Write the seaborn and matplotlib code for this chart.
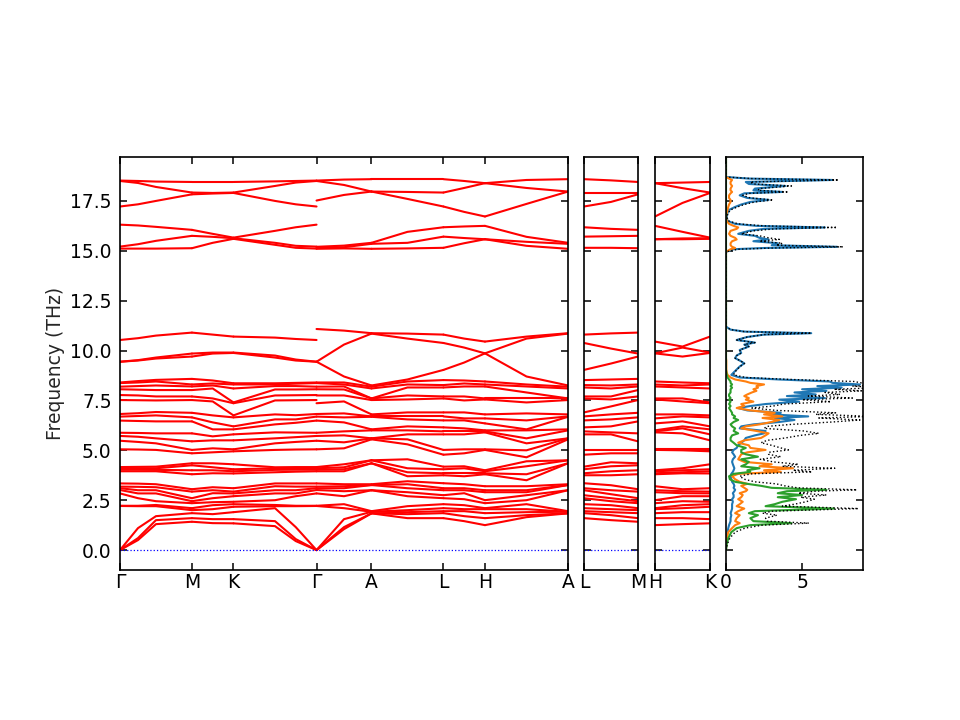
import numpy as np
import pandas as pd
import matplotlib
matplotlib.use("Agg")
import matplotlib.pyplot as plt
import seaborn as sns
from matplotlib.ticker import MultipleLocator

# phonon frequencies (THz) read at the sampled q-points of the path
# G = Gamma (in-plane approach), Gz = Gamma approached along c
q = {
    "G": [0, 0, 0, 2.21, 2.22, 2.84, 3.01, 3.1, 3.18, 3.34, 3.95, 4.03, 4.1, 4.16, 5.05, 5.48, 5.72, 5.88,
          6.49, 6.69, 6.82, 7.52, 7.77, 8.06, 8.19, 8.37, 8.4, 9.44, 9.44, 10.53,
          15.11, 15.21, 16.31, 17.22, 18.50, 18.52],
    "GM1": [0.5, 0.6, 1.1, 2.2, 2.22, 2.6, 2.84, 3.0, 3.17, 3.33, 3.95, 4.03, 4.1, 4.17, 5.04, 5.42, 5.68, 5.87,
            6.47, 6.72, 6.86, 7.51, 7.75, 8.04, 8.22, 8.4, 8.47, 9.5, 9.52, 10.62,
            15.11, 15.33, 16.27, 17.33, 18.4, 18.5],
    "GM": [1.3, 1.5, 1.7, 2.2, 2.26, 2.45, 2.84, 3.0, 3.15, 3.3, 3.95, 4.02, 4.1, 4.18, 5.02, 5.35, 5.6, 5.85,
           6.45, 6.75, 6.92, 7.5, 7.7, 8.02, 8.25, 8.45, 8.53, 9.6, 9.65, 10.75,
           15.11, 15.5, 16.2, 17.5, 18.2, 18.47],
    "M": [1.42, 1.6, 1.85, 2.0, 2.1, 2.35, 2.45, 2.6, 2.93, 3.05, 3.8, 4.0, 4.25, 4.35, 4.85, 5.02, 5.45, 5.85,
          6.45, 6.65, 6.88, 7.52, 7.7, 8.02, 8.2, 8.3, 8.58, 9.7, 9.85, 10.9,
          15.13, 15.75, 16.05, 17.83, 17.92, 18.45],
    "MK": [1.35, 1.55, 1.8, 2.05, 2.25, 2.4, 2.6, 2.85, 3.0, 3.15, 3.85, 4.0, 4.15, 4.35, 4.9, 5.1, 5.5, 5.7,
           6.05, 6.4, 6.75, 7.45, 7.6, 8.1, 8.25, 8.35, 8.5, 9.85, 9.9, 10.8,
           15.4, 15.7, 15.85, 17.87, 17.9, 18.45],
    "K": [1.34, 1.55, 1.9, 2.17, 2.3, 2.42, 2.7, 2.84, 2.93, 3.1, 3.84, 3.95, 4.05, 4.3, 4.95, 5.05, 5.5, 5.8,
          6.05, 6.2, 6.65, 6.75, 7.36, 7.4, 8.1, 8.3, 8.36, 9.88, 9.9, 10.7,
          15.6, 15.63, 15.66, 17.9, 17.92, 18.45],
    "KG": [1.2, 1.45, 2.1, 2.2, 2.26, 2.5, 2.84, 3.0, 3.2, 3.34, 3.9, 4.02, 4.1, 4.15, 5.02, 5.35, 5.6, 5.9,
           6.3, 6.55, 6.8, 7.5, 7.75, 8.05, 8.22, 8.3, 8.36, 9.65, 9.75, 10.65,
           15.3, 15.4, 16.0, 17.5, 18.25, 18.48],
    "KG3": [0.45, 0.55, 1.15, 2.2, 2.22, 2.7, 2.84, 3.0, 3.18, 3.34, 3.93, 4.03, 4.1, 4.16, 5.04, 5.42, 5.66, 5.89,
            6.38, 6.55, 6.76, 7.51, 7.76, 8.05, 8.22, 8.34, 8.38, 9.5, 9.55, 10.58,
            15.15, 15.25, 16.18, 17.33, 18.42, 18.5],
    "Gz": [0, 0, 0, 2.21, 2.22, 2.84, 3.01, 3.1, 3.18, 3.34, 3.95, 4.03, 4.1, 4.16, 5.05, 5.48, 5.72, 5.88,
           6.49, 6.69, 6.82, 7.36, 7.75, 8.06, 8.19, 8.37, 8.4, 9.44, 9.44, 11.08,
           15.1, 15.15, 15.2, 17.52, 18.50, 18.52],
    "GA": [1.05, 1.15, 1.55, 2.1, 2.3, 2.7, 2.95, 3.1, 3.2, 3.3, 3.95, 4.05, 4.15, 4.3, 5.1, 5.4, 5.75, 5.95,
           6.4, 6.65, 6.85, 7.45, 7.75, 8.05, 8.2, 8.3, 8.4, 8.7, 10.3, 11.0,
           15.12, 15.18, 15.26, 17.8, 18.3, 18.57],
    "A": [1.84, 1.84, 1.92, 1.92, 1.95, 3.0, 3.0, 3.26, 3.26, 3.3, 4.35, 4.35, 4.5, 4.5, 5.55, 5.6, 5.6, 6.0,
          6.05, 6.68, 6.7, 6.8, 7.52, 7.6, 7.6, 8.1, 8.19, 8.25, 10.85, 10.87,
          15.1, 15.35, 15.4, 17.97, 17.97, 18.59],
    "AL": [1.6, 1.8, 1.9, 2.0, 2.2, 2.7, 2.9, 3.1, 3.3, 3.45, 3.7, 3.9, 4.1, 4.55, 5.3, 5.55, 5.8, 6.0,
           6.2, 6.55, 6.7, 6.9, 7.55, 7.75, 8.15, 8.3, 8.45, 8.55, 10.6, 10.85,
           15.12, 15.4, 15.95, 17.6, 17.95, 18.59],
    "L": [1.6, 1.85, 1.95, 2.1, 2.3, 2.6, 2.75, 3.0, 3.1, 3.35, 3.75, 3.85, 4.05, 4.18, 4.78, 5.02, 5.8, 5.95,
          6.15, 6.5, 6.7, 6.9, 7.6, 7.7, 8.15, 8.27, 8.52, 9.03, 10.38, 10.8,
          15.15, 15.71, 16.18, 17.22, 17.92, 18.59],
    "LH": [1.45, 1.7, 1.95, 2.05, 2.25, 2.55, 2.85, 3.0, 3.1, 3.3, 3.7, 3.85, 4.1, 4.2, 4.85, 5.05, 5.8, 5.95,
           6.1, 6.5, 6.6, 6.9, 7.5, 7.7, 8.2, 8.35, 8.5, 9.4, 10.15, 10.6,
           15.38, 15.64, 16.22, 16.95, 18.15, 18.5],
    "H": [1.25, 1.6, 1.85, 2.05, 2.1, 2.35, 2.5, 2.9, 3.0, 3.2, 3.8, 3.85, 3.95, 4.0, 5.02, 5.05, 5.9, 5.95,
          6.0, 6.35, 6.6, 6.8, 7.55, 7.6, 8.2, 8.3, 8.45, 9.86, 9.86, 10.45,
          15.58, 15.58, 16.25, 16.72, 18.39, 18.39],
    "HA": [1.65, 1.75, 1.9, 2.05, 2.3, 2.5, 2.75, 2.9, 3.0, 3.2, 3.5, 3.8, 4.2, 4.45, 4.65, 5.0, 5.35, 5.6,
           6.0, 6.05, 6.5, 6.85, 7.4, 7.6, 7.9, 8.2, 8.3, 8.7, 10.6, 10.7,
           15.25, 15.45, 15.7, 17.35, 18.15, 18.55],
    "LM": [1.5, 1.75, 1.9, 2.05, 2.25, 2.45, 2.6, 2.8, 3.0, 3.25, 3.75, 3.95, 4.2, 4.4, 4.85, 5.02, 5.8, 5.9,
           6.2, 6.55, 6.8, 7.2, 7.55, 7.7, 8.1, 8.25, 8.55, 9.35, 10.1, 10.86,
           15.15, 15.73, 16.1, 17.45, 17.92, 18.53],
    "HK": [1.3, 1.6, 1.9, 2.1, 2.25, 2.45, 2.7, 2.85, 2.95, 3.05, 3.85, 3.9, 4.0, 4.1, 5.0, 5.05, 5.85, 6.1,
           6.2, 6.45, 6.7, 6.8, 7.45, 7.6, 8.15, 8.25, 8.4, 9.7, 10.15, 10.2,
           15.58, 15.62, 15.95, 17.4, 18.14, 18.42],
}

# path segments: sampled points as (fraction of segment, q-point key), and segment length (Gamma-M = 1)
main_path = [
    [(0, "G"), (0.25, "GM1"), (0.5, "GM"), (1, "M")],
    [(0, "M"), (0.5, "MK"), (1, "K")],
    [(0, "K"), (0.5, "KG"), (0.75, "KG3"), (1, "G")],
    [(0, "Gz"), (0.5, "GA"), (1, "A")],
    [(0, "A"), (0.5, "AL"), (1, "L")],
    [(0, "L"), (0.5, "LH"), (1, "H")],
    [(0, "H"), (0.5, "HA"), (1, "A")],
]
main_len = [1.0, 0.5774, 1.1547, 0.764, 1.0, 0.5774, 1.1547]
main_labels = ["Γ", "M", "K", "Γ", "A", "L", "H", "A"]
lm_path = [[(0, "L"), (0.5, "LM"), (1, "M")]]
hk_path = [[(0, "H"), (0.5, "HK"), (1, "K")]]
side_len = [0.764]

# projected DOS (three species) along frequency
dos_freq = [0.0, 0.3, 0.6, 0.9, 1.1, 1.25, 1.35, 1.45, 1.6, 1.75,
            1.85, 1.95, 2.08, 2.2, 2.3, 2.42, 2.55, 2.65, 2.76, 2.85,
            2.95, 3.02, 3.12, 3.22, 3.32, 3.42, 3.55, 3.7, 3.82, 3.92,
            4.0, 4.1, 4.2, 4.3, 4.42, 4.55, 4.68, 4.8, 4.9, 5.02,
            5.12, 5.25, 5.38, 5.5, 5.62, 5.75, 5.85, 5.97, 6.1, 6.2,
            6.3, 6.42, 6.52, 6.62, 6.7, 6.8, 6.88, 7.0, 7.12, 7.22,
            7.32, 7.44, 7.54, 7.62, 7.72, 7.8, 7.9, 7.98, 8.06, 8.14,
            8.22, 8.3, 8.38, 8.45, 8.55, 8.65, 8.78, 8.9, 9.05, 9.2,
            9.36, 9.5, 9.62, 9.75, 9.88, 10.03, 10.2, 10.3, 10.4, 10.53,
            10.68, 10.8, 10.87, 10.95, 11.05, 11.2, 14.95, 15.08, 15.14, 15.2,
            15.28, 15.38, 15.48, 15.57, 15.65, 15.75, 15.85, 16.0, 16.1, 16.17,
            16.25, 16.35, 16.5, 16.7, 16.9, 17.05, 17.2, 17.32, 17.45, 17.55,
            17.65, 17.78, 17.88, 17.95, 18.03, 18.12, 18.25, 18.35, 18.45, 18.55,
            18.62, 18.7, 19.7]
dos_blue = [0, 0.02, 0.05, 0.1, 0.15, 0.2, 0.25, 0.3, 0.3, 0.35,
            0.3, 0.35, 0.4, 0.4, 0.4, 0.45, 0.4, 0.5, 0.5, 0.45,
            0.55, 0.6, 0.5, 0.55, 0.5, 0.4, 0.35, 0.3, 0.35, 0.45,
            0.5, 0.55, 0.5, 0.45, 0.4, 0.45, 0.6, 0.5, 0.4, 0.5,
            0.7, 0.8, 1.0, 1.2, 1.3, 1.9, 2.5, 2.6, 0.9, 1.0,
            1.8, 3.5, 4.5, 3.2, 5.4, 3.0, 3.6, 1.4, 0.8, 1.6,
            2.6, 4.8, 3.5, 6.5, 4.0, 5.9, 4.5, 6.6, 5.0, 7.6,
            6.0, 8.8, 7.0, 6.8, 3.5, 0.9, 0.35, 0.5, 0.7, 0.9,
            1.2, 0.9, 0.6, 0.7, 1.0, 0.9, 1.5, 1.2, 1.9, 0.7,
            1.4, 2.5, 5.6, 1.2, 0.3, 0, 0, 0.5, 2.5, 7.3,
            3.0, 3.4, 1.8, 2.8, 2.2, 1.9, 0.8, 1.5, 2.5, 6.5,
            2.0, 0.6, 0.1, 0.05, 0.1, 0.2, 0.6, 1.0, 1.6, 2.8,
            1.4, 0.9, 1.2, 3.7, 1.8, 1.9, 3.9, 1.5, 1.3, 7.0,
            1.5, 0, 0]
dos_orange = [0, 0.02, 0.05, 0.15, 0.4, 0.6, 0.9, 0.6, 0.7, 0.9,
              0.6, 0.8, 1.2, 0.7, 0.9, 1.1, 0.8, 1.0, 1.1, 0.9,
              1.3, 1.4, 1.2, 1.0, 1.4, 0.9, 0.6, 0.4, 0.8, 3.6,
              2.5, 4.4, 2.2, 3.0, 1.2, 0.8, 0.9, 1.0, 1.4, 2.6,
              1.6, 1.5, 0.8, 1.2, 2.3, 2.6, 2.8, 2.0, 1.0, 1.3,
              2.2, 3.0, 3.5, 2.4, 3.7, 2.5, 3.2, 1.6, 0.7, 1.2,
              1.0, 1.8, 1.3, 1.5, 1.2, 1.4, 1.7, 2.0, 1.8, 2.1,
              2.0, 2.5, 1.6, 1.3, 0.6, 0.3, 0.1, 0.05, 0.02, 0.02,
              0.02, 0.02, 0, 0, 0, 0, 0, 0, 0, 0,
              0, 0, 0, 0, 0, 0, 0, 0.3, 0.6, 0.4,
              0.3, 0.3, 0.4, 0.7, 0.6, 0.3, 0.2, 0.3, 0.7, 0.8,
              0.5, 0.2, 0.05, 0, 0.05, 0.1, 0.15, 0.2, 0.3, 0.3,
              0.2, 0.2, 0.3, 0.4, 0.3, 0.3, 0.4, 0.3, 0.3, 0.4,
              0.2, 0, 0]
dos_green = [0, 0.05, 0.15, 0.35, 0.7, 1.6, 4.3, 1.8, 1.6, 2.1,
             1.5, 1.9, 7.1, 2.6, 3.2, 3.7, 4.6, 3.4, 5.0, 3.4,
             4.0, 6.6, 3.0, 2.3, 1.4, 0.6, 0.25, 0.2, 0.5, 1.6,
             1.4, 2.2, 1.0, 1.3, 1.5, 1.0, 2.1, 1.3, 1.0, 1.0,
             1.3, 0.7, 0.5, 0.3, 0.3, 0.4, 0.8, 0.5, 0.6, 0.4,
             0.3, 0.5, 0.8, 0.5, 0.6, 0.4, 0.4, 0.3, 0.2, 0.3,
             0.2, 0.3, 0.2, 0.3, 0.2, 0.2, 0.3, 0.3, 0.3, 0.4,
             0.3, 0.4, 0.3, 0.3, 0.2, 0.1, 0.05, 0.02, 0, 0,
             0, 0, 0, 0, 0, 0, 0, 0, 0, 0,
             0, 0, 0, 0, 0, 0, 0, 0, 0, 0,
             0, 0, 0, 0, 0, 0, 0, 0, 0, 0,
             0, 0, 0, 0, 0, 0, 0, 0, 0, 0,
             0, 0, 0, 0, 0, 0, 0, 0, 0, 0,
             0, 0, 0]

YLIM = (-1.0, 19.7)


def path_frame(path, lengths):
    """Sorted band frequencies along a path -> long dataframe, plus tick positions."""
    rows = []
    x0 = 0.0
    ticks = [0.0]
    for s, (samples, seg) in enumerate(zip(path, lengths)):
        xs = [x0 + f * seg for f, _ in samples]
        vals = np.array([np.sort(q[key]) for _, key in samples])
        for i in range(vals.shape[1]):
            for xx, v in zip(xs, vals[:, i]):
                rows.append({"x": xx, "freq": v, "unit": f"{s}-{i}"})
        x0 += seg
        ticks.append(x0)
    return pd.DataFrame(rows), ticks


sns.set_style("ticks")
plt.rcParams.update({
    "font.family": ["DejaVu Sans"],
    "font.size": 13.5,
    "axes.linewidth": 1.2,
    "axes.edgecolor": "black",
    "xtick.color": "black",
    "ytick.color": "black",
    "xtick.direction": "in",
    "ytick.direction": "in",
    "xtick.top": True,
    "ytick.right": True,
    "xtick.major.size": 5,
    "ytick.major.size": 5,
    "xtick.major.width": 1.1,
    "ytick.major.width": 1.1,
    "xtick.major.pad": 2.0,
    "ytick.major.pad": 6.0,
})

fig = plt.figure(figsize=(9.6, 7.2), dpi=100)
bottom, height = 0.2083, 0.5736
ax_main = fig.add_axes([0.125, bottom, 0.4667, height])
ax_lm = fig.add_axes([0.6083, bottom, 0.05625, height])
ax_hk = fig.add_axes([0.6823, bottom, 0.0573, height])
ax_dos = fig.add_axes([0.75625, bottom, 0.1427, height])

panels = [
    (ax_main, main_path, main_len, main_labels),
    (ax_lm, lm_path, side_len, ["L", "M"]),
    (ax_hk, hk_path, side_len, ["H", "K"]),
]
for ax, path, lengths, labels in panels:
    df, ticks = path_frame(path, lengths)
    sns.lineplot(data=df, x="x", y="freq", units="unit", estimator=None, sort=False,
                 color="red", linewidth=1.5, ax=ax, legend=False)
    ax.axhline(0, color="blue", linestyle=":", linewidth=0.9)
    ax.set_xlim(ticks[0], ticks[-1])
    ax.set_ylim(*YLIM)
    ax.set_xticks(ticks)
    ax.set_xticklabels(labels)
    ax.yaxis.set_major_locator(MultipleLocator(2.5))
    ax.set_xlabel("")
    ax.set_ylabel("")
    if ax is not ax_main:
        ax.tick_params(axis="y", labelleft=False)

ax_main.set_ylabel("Frequency (THz)")

dos_total = np.array(dos_blue) + np.array(dos_orange) + np.array(dos_green)
for vals, col in [(dos_blue, "#1f77b4"), (dos_orange, "#ff7f0e"), (dos_green, "#2ca02c")]:
    sns.lineplot(x=vals, y=dos_freq, sort=False, estimator=None, orient="y",
                 color=col, linewidth=1.5, ax=ax_dos)
sns.lineplot(x=dos_total, y=dos_freq, sort=False, estimator=None, orient="y",
             color="black", linestyle=":", linewidth=1.0, ax=ax_dos)
ax_dos.set_xlim(0, 9)
ax_dos.set_ylim(*YLIM)
ax_dos.xaxis.set_major_locator(MultipleLocator(5))
ax_dos.yaxis.set_major_locator(MultipleLocator(2.5))
ax_dos.tick_params(axis="y", labelleft=False)
ax_dos.set_xlabel("")
ax_dos.set_ylabel("")

fig.savefig("out.png", dpi=100)
